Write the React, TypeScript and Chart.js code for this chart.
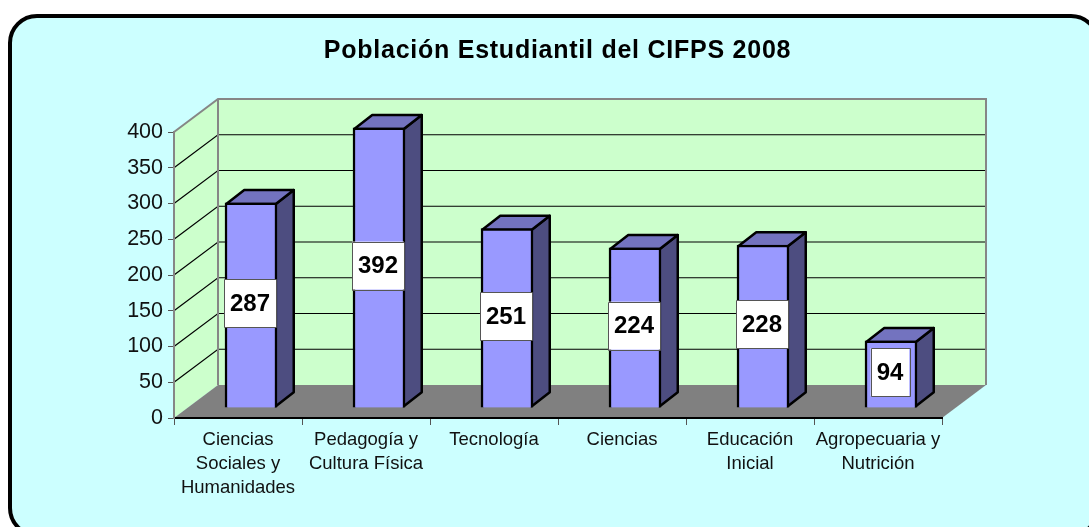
import React, { useEffect, useRef } from "react";
import { Chart, registerables } from "chart.js";

Chart.register(...registerables);

const categories: string[][] = [
  ["Ciencias", "Sociales y", "Humanidades"],
  ["Pedagogía y", "Cultura Física"],
  ["Tecnología"],
  ["Ciencias"],
  ["Educación", "Inicial"],
  ["Agropecuaria y", "Nutrición"],
];
const students: number[] = [287, 392, 251, 224, 228, 94];
const titleText = "Población Estudiantil del CIFPS 2008";
const FONT = '"Liberation Sans", Arial, sans-serif';

const WALL_DX = 44;
const WALL_DY = -33;
const BAR_DX = 13;
const BAR_DY = -10;
const SIDE_DX = 18;
const SIDE_DY = -14;

function poly(ctx: CanvasRenderingContext2D, pts: number[][], fill?: string, stroke?: string, lw = 2) {
  ctx.beginPath();
  pts.forEach((p, i) => (i ? ctx.lineTo(p[0], p[1]) : ctx.moveTo(p[0], p[1])));
  ctx.closePath();
  if (fill) {
    ctx.fillStyle = fill;
    ctx.fill();
  }
  if (stroke) {
    ctx.strokeStyle = stroke;
    ctx.lineWidth = lw;
    ctx.lineJoin = "round";
    ctx.stroke();
  }
}

const scenePlugin = {
  id: "scene3d",
  beforeDraw(chart: any) {
    const { ctx, chartArea: a, scales } = chart;
    const y = scales.y;
    ctx.save();
    // panel
    ctx.fillStyle = "#ffffff";
    ctx.fillRect(0, 0, chart.width, chart.height);
    ctx.beginPath();
    ctx.roundRect(10, 16, 1088, 519, 27);
    ctx.fillStyle = "#CCFFFF";
    ctx.fill();
    ctx.strokeStyle = "#000000";
    ctx.lineWidth = 4;
    ctx.stroke();
    // title
    ctx.fillStyle = "#000000";
    ctx.font = `bold 25px ${FONT}`;
    ctx.textAlign = "center";
    ctx.textBaseline = "alphabetic";
    ctx.letterSpacing = "0.75px";
    ctx.fillText(titleText, 557.5, 58);
    ctx.letterSpacing = "0px";
    // walls
    const L = a.left, R = a.right, T = a.top, B = a.bottom;
    const dx = WALL_DX, dy = WALL_DY;
    poly(ctx, [[L + dx, T + dy], [R + dx, T + dy], [R + dx, B + dy], [L + dx, B + dy]], "#CCFFCC");
    poly(ctx, [[L, T], [L + dx, T + dy], [L + dx, B + dy], [L, B]], "#CCFFCC");
    // gridlines
    ctx.strokeStyle = "#000000";
    ctx.lineWidth = 1.2;
    for (const t of y.ticks) {
      if (t.value === 0 || t.value === y.max) continue;
      const py = y.getPixelForValue(t.value);
      ctx.beginPath();
      ctx.moveTo(L, py);
      ctx.lineTo(L + dx, py + dy);
      ctx.lineTo(R + dx, py + dy);
      ctx.stroke();
    }
    // floor
    poly(ctx, [[L, B], [R, B], [R + dx, B + dy], [L + dx, B + dy]], "#808080");
    // wall outlines
    ctx.strokeStyle = "#868686";
    ctx.lineWidth = 2;
    ctx.beginPath();
    ctx.moveTo(L, T);
    ctx.lineTo(L + dx, T + dy);
    ctx.lineTo(R + dx, T + dy);
    ctx.lineTo(R + dx, B + dy);
    ctx.moveTo(L + dx, T + dy);
    ctx.lineTo(L + dx, B + dy);
    ctx.stroke();
    ctx.restore();
  },
  beforeDatasetDraw(chart: any, args: any) {
    const { ctx } = chart;
    ctx.save();
    ctx.translate(BAR_DX, BAR_DY);
    const meta = chart.getDatasetMeta(args.index);
    for (const bar of meta.data) {
      const p = bar.getProps(["x", "y", "base", "width"], true);
      const x0 = p.x - p.width / 2 + 1.25;
      const x1 = p.x + p.width / 2 - 1.25;
      const top = p.y + 1.25;
      const bot = p.base - 1.25;
      poly(ctx, [[x1, top], [x1 + SIDE_DX, top + SIDE_DY], [x1 + SIDE_DX, bot + SIDE_DY], [x1, bot]], "#4D4D80", "#000000", 2.5);
      poly(ctx, [[x0, top], [x0 + SIDE_DX, top + SIDE_DY], [x1 + SIDE_DX, top + SIDE_DY], [x1, top]], "#7373BF", "#000000", 2.5);
    }
  },
  afterDatasetDraw(chart: any, args: any) {
    const { ctx } = chart;
    const meta = chart.getDatasetMeta(args.index);
    const vals = chart.data.datasets[args.index].data;
    ctx.font = `bold 24px ${FONT}`;
    ctx.textAlign = "center";
    ctx.textBaseline = "middle";
    meta.data.forEach((bar: any, i: number) => {
      const p = bar.getProps(["x", "y", "base"], true);
      const text = String(vals[i]);
      const w = ctx.measureText(text).width + 12;
      const h = 48;
      const cx = p.x - 1;
      const cy = (p.y + p.base) / 2 - 2;
      ctx.fillStyle = "#ffffff";
      ctx.strokeStyle = "#555555";
      ctx.lineWidth = 1;
      ctx.fillRect(cx - w / 2, cy - h / 2, w, h);
      ctx.strokeRect(Math.round(cx - w / 2) + 0.5, Math.round(cy - h / 2) + 0.5, Math.round(w), h);
      ctx.fillStyle = "#000000";
      ctx.fillText(text, cx, cy + 1);
    });
    ctx.restore();
  },
};

export default function App() {
  const ref = useRef<HTMLCanvasElement>(null);
  useEffect(() => {
    const chart = new Chart(ref.current as HTMLCanvasElement, {
      type: "bar",
      data: {
        labels: categories as any,
        datasets: [
          {
            data: students,
            backgroundColor: "#9999FF",
            borderColor: "#000000",
            borderWidth: 2.5,
            barThickness: 52,
          },
        ],
      },
      plugins: [scenePlugin],
      options: {
        responsive: false,
        animation: false,
        layout: { padding: { top: 132, right: 147, left: 0, bottom: 0 } },
        plugins: { legend: { display: false }, tooltip: { enabled: false }, title: { display: false } },
        scales: {
          x: {
            offset: true,
            afterFit: (s: any) => {
              s.height = 109;
            },
            grid: { offset: true, drawOnChartArea: false, drawTicks: true, tickLength: 7, color: "#555555", lineWidth: 1 },
            border: { color: "#000000", width: 2 },
            ticks: {
              autoSkip: false,
              maxRotation: 0,
              minRotation: 0,
              padding: 3,
              color: "#111111",
              font: { family: FONT, size: 18.5, lineHeight: 1.3 },
            },
          },
          y: {
            min: 0,
            max: 400,
            afterFit: (s: any) => {
              s.width = 174;
            },
            grid: { drawOnChartArea: false, drawTicks: true, tickLength: 6, color: "#555555", lineWidth: 1 },
            border: { color: "#868686", width: 2 },
            ticks: {
              stepSize: 50,
              padding: 5,
              color: "#111111",
              font: { family: FONT, size: 21.5 },
            },
          },
        },
      },
    } as any);
    return () => chart.destroy();
  }, []);
  return (
    <div style={{ position: "fixed", left: 0, top: 0, width: 1089, height: 527 }}>
      <canvas ref={ref} width={1089} height={527} style={{ display: "block" }} />
    </div>
  );
}
